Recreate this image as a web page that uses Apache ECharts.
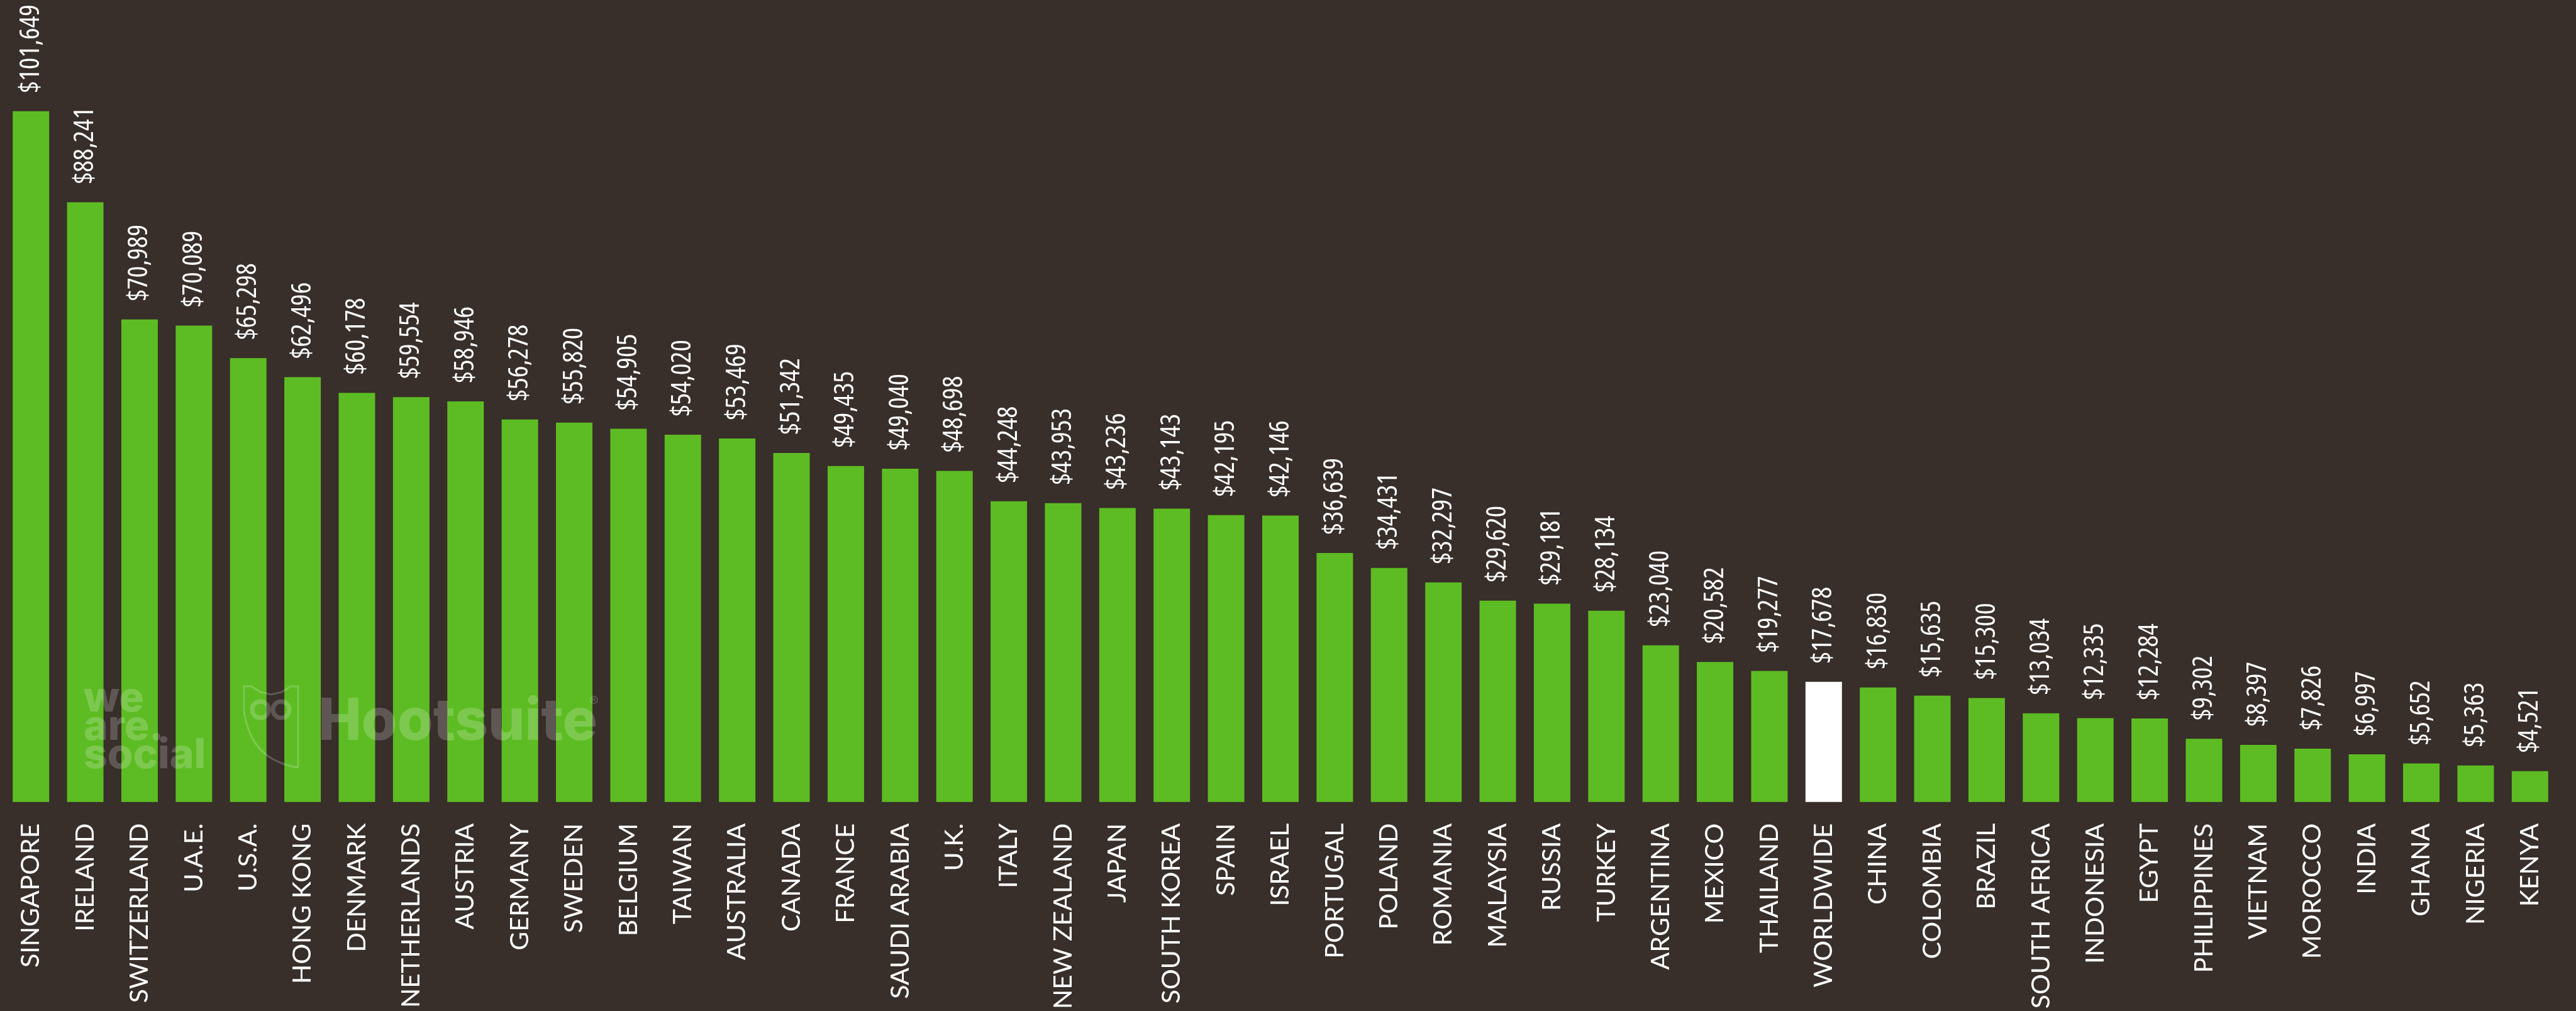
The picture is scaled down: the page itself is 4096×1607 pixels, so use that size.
<!DOCTYPE html>
<html>
<head>
<meta charset="utf-8">
<script src="https://cdn.jsdelivr.net/npm/echarts@6/dist/echarts.min.js"></script>
<style>
html,body{margin:0;padding:0;background:#382e2a;}
#chart{width:4096px;height:1607px;}
</style>
</head>
<body>
<div id="chart"></div>
<script>
const countries = ["SINGAPORE","IRELAND","SWITZERLAND","U.A.E.","U.S.A.","HONG KONG","DENMARK","NETHERLANDS","AUSTRIA","GERMANY","SWEDEN","BELGIUM","TAIWAN","AUSTRALIA","CANADA","FRANCE","SAUDI ARABIA","U.K.","ITALY","NEW ZEALAND","JAPAN","SOUTH KOREA","SPAIN","ISRAEL","PORTUGAL","POLAND","ROMANIA","MALAYSIA","RUSSIA","TURKEY","ARGENTINA","MEXICO","THAILAND","WORLDWIDE","CHINA","COLOMBIA","BRAZIL","SOUTH AFRICA","INDONESIA","EGYPT","PHILIPPINES","VIETNAM","MOROCCO","INDIA","GHANA","NIGERIA","KENYA"];
const gdpPerCapita = [101649,88241,70989,70089,65298,62496,60178,59554,58946,56278,55820,54905,54020,53469,51342,49435,49040,48698,44248,43953,43236,43143,42195,42146,36639,34431,32297,29620,29181,28134,23040,20582,19277,17678,16830,15635,15300,13034,12335,12284,9302,8397,7826,6997,5652,5363,4521];
const highlighted = ["WORLDWIDE"];

const GREEN = '#5dbc23';
const WHITE = '#ffffff';
const WM = 'rgba(255,255,255,0.2)';

const chart = echarts.init(document.getElementById('chart'));
const seriesData = gdpPerCapita.map((v, i) => ({
  value: v,
  itemStyle: { color: highlighted.includes(countries[i]) ? WHITE : GREEN }
}));

function wmText(x, y, text, font) {
  return { type: 'text', z: 100, x: x, y: y, style: { text: text, fill: WM, font: font, textVerticalAlign: 'top' } };
}

chart.setOption({
  backgroundColor: '#382e2a',
  animation: false,
  grid: { left: 6, right: 30, top: 0, bottom: 325, containLabel: false },
  xAxis: {
    type: 'category',
    data: countries,
    axisLine: { show: false },
    axisTick: { show: false },
    axisLabel: {
      interval: 0,
      rotate: 90,
      margin: 34,
      color: '#ffffff',
      fontFamily: 'Lato, "Noto Sans", sans-serif',
      fontSize: 41,
      fontWeight: 400
    }
  },
  yAxis: {
    type: 'value',
    min: 0,
    max: 118000,
    show: false,
    splitLine: { show: false }
  },
  series: [{
    type: 'bar',
    data: seriesData,
    barWidth: 58,
    label: {
      show: true,
      position: 'top',
      rotate: 90,
      align: 'left',
      verticalAlign: 'middle',
      distance: 29,
      color: '#ffffff',
      fontStyle: 'condensed',
      fontWeight: 500,
      fontFamily: '"Open Sans", "Roboto Condensed", sans-serif',
      fontSize: 44,
      formatter: p => '$' + p.value.toLocaleString('en-US')
    }
  }],
  graphic: [
    wmText(133, 1078, 'we', '800 66px Inter, sans-serif'),
    wmText(133, 1123, 'are.', '800 66px Inter, sans-serif'),
    wmText(133, 1168, 'social', '800 66px Inter, sans-serif'),
    { type: 'polyline', z: 100, shape: { points: [[388,1130],[388,1091],[400,1091],[414,1100],[431,1104],[448,1100],[462,1091],[474,1091],[474,1220]] },
      style: { fill: null, stroke: WM, lineWidth: 3 } },
    { type: 'bezierCurve', z: 100, shape: { x1: 474, y1: 1220, x2: 388, y2: 1130, cpx1: 398, cpy1: 1208 },
      style: { fill: null, stroke: WM, lineWidth: 3 } },
    { type: 'circle', z: 100, shape: { cx: 414, cy: 1128, r: 13 }, style: { fill: null, stroke: WM, lineWidth: 7 } },
    { type: 'circle', z: 100, shape: { cx: 447, cy: 1128, r: 13 }, style: { fill: null, stroke: WM, lineWidth: 7 } },
    wmText(506, 1102, 'Hootsuite', '800 92px Inter, sans-serif'),
    wmText(937, 1104, '®', '400 22px Inter, sans-serif')
  ]
});
</script>
</body>
</html>
